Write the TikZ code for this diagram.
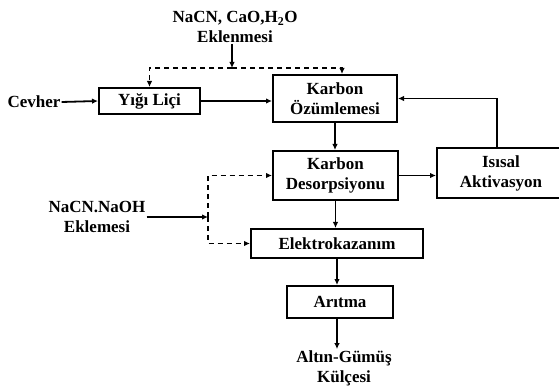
\documentclass[tikz,border=0pt]{standalone}
\usepackage{fontspec}
\setmainfont{Liberation Serif}
\usetikzlibrary{arrows.meta,positioning}
\tikzset{
  kutu/.style={draw,line width=2pt,align=center,inner sep=0pt},
  ok/.style={line width=1.8pt,-{Latex[length=6pt,width=5.5pt]}},
  kesik/.style={line width=1.5pt,dash pattern=on 5pt off 4pt},
  yazi/.style={align=center,inner sep=1pt},
}

\begin{document}
\begin{tikzpicture}[x=1pt,y=-1pt,font=\fontsize{17}{20}\selectfont\bfseries]
  \clip (0,0) rectangle (559,387);
  % kutular
  \node[kutu,minimum width=101pt,minimum height=26pt] (yigi) at (149.5,101) {Yığı Liçi};
  \node[kutu,minimum width=124pt,minimum height=47pt] (ozum) at (335,98.5) {Karbon\\Özümlemesi};
  \node[kutu,minimum width=125pt,minimum height=49pt] (desorp) at (335.5,175.5) {Karbon\\Desorpsiyonu};
  \node[kutu,minimum width=128pt,minimum height=50pt] (isi) at (501,173) {Isısal\\Aktivasyon};
  \node[kutu,minimum width=172pt,minimum height=29pt] (elektro) at (337,243.5) {Elektrokazanım};
  \node[kutu,minimum width=106pt,minimum height=32pt] (aritma) at (340,302) {Arıtma};
  % yazilar
  \node[yazi] (cevher) at (34,102) {Cevher};
  \node[yazi] (ekle) at (235,27) {NaCN, CaO,H\textsubscript{2}O\\Eklenmesi};
  \node[yazi] (naoh) at (97,216.5) {NaCN.NaOH\\Eklemesi};
  \node[yazi] (kulce) at (344,368) {Altın-Gümüş\\Külçesi};
  \coordinate (ust) at (232,68);
  \coordinate (ayr) at (208,217);
  % oklar
  \draw[ok] (cevher.east) -- (yigi.west);
  \draw[ok] (yigi.east) -- (yigi.east -| ozum.west);
  \draw[ok] (ekle.south -| ust) -- (ust);
  \draw[kesik,ok] (ust) -| (yigi.north);
  \draw[kesik,ok] (ust) -| ([xshift=7pt]ozum.north);
  \draw[ok] (ozum.south) -- (ozum.south |- desorp.north);
  \draw[ok] ([xshift=-4pt]isi.north) |- (ozum.east);
  \draw[ok] (desorp.east) -- (desorp.east -| isi.west);
  \draw[ok] (desorp.south) -- (desorp.south |- elektro.north);
  \draw[ok] (naoh.east |- ayr) -- (ayr);
  \draw[kesik,ok] (ayr) |- (desorp.west);
  \draw[kesik,ok] (ayr) |- (elektro.west);
  \draw[ok] (elektro.south) -- (elektro.south |- aritma.north);
  \draw[ok] (elektro.south |- aritma.south) -- (elektro.south |- kulce.north);
\end{tikzpicture}
\end{document}
